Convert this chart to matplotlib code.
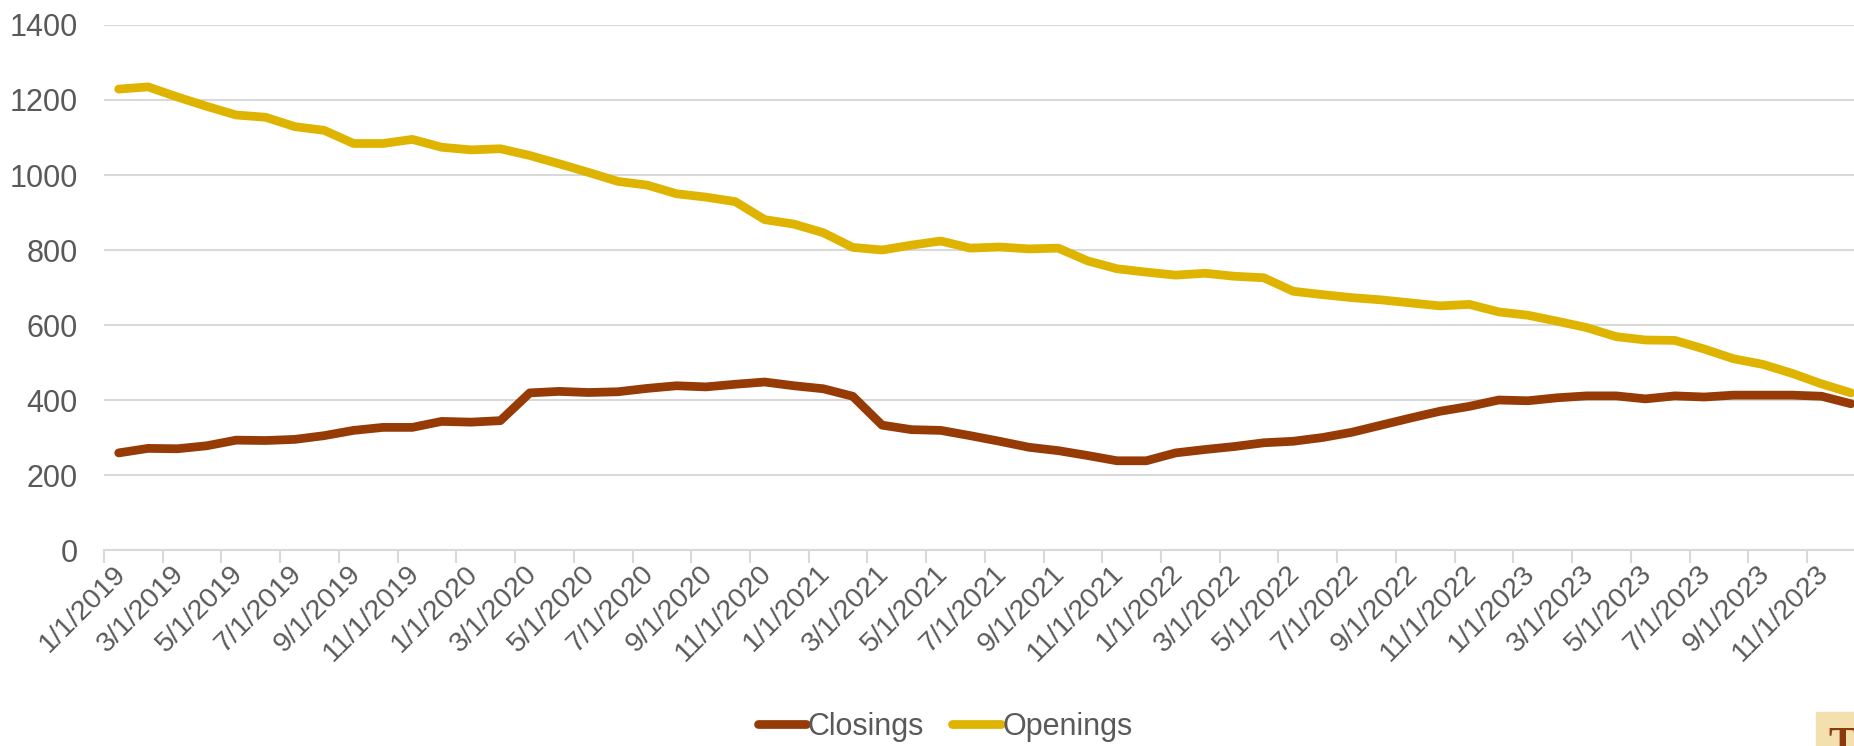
import numpy as np
import pandas as pd
import matplotlib
matplotlib.use("Agg")
import matplotlib.pyplot as plt
import matplotlib.transforms as mtransforms
from matplotlib.patches import Rectangle

plt.rcParams['font.family'] = ['Liberation Sans', 'DejaVu Sans']

# monthly, 1/1/2019 .. 12/1/2023
months = pd.date_range("2019-01-01", periods=60, freq="MS")
month_labels = [f"{d.month}/1/{d.year}" for d in months]

closings = [259, 271, 270, 278, 293, 292, 295, 305, 319, 327, 327, 343,
            341, 345, 419, 423, 420, 422, 431, 438, 435, 442, 448, 438,
            430, 410, 333, 321, 319, 305, 290, 274, 265, 252, 238, 238,
            259, 268, 276, 286, 290, 300, 314, 333, 352, 370, 383, 400,
            398, 406, 411, 411, 403, 411, 408, 413, 413, 413, 410, 390]

openings = [1229, 1235, 1208, 1183, 1160, 1154, 1129, 1119, 1084, 1084, 1095, 1074,
            1067, 1070, 1052, 1030, 1007, 983, 973, 950, 941, 929, 881, 869,
            846, 807, 800, 813, 824, 805, 808, 803, 805, 771, 750, 741,
            733, 738, 730, 726, 690, 681, 673, 667, 659, 651, 655, 635,
            626, 610, 593, 569, 560, 559, 536, 510, 495, 471, 443, 419]

c_close = "#963B06"
c_open = "#DEB400"
grid_c = "#D9D9D9"
txt_c = "#595959"

fig = plt.figure(figsize=(18.54, 7.46), dpi=100)
ax = fig.add_axes([0.0561, 0.2627, 0.9502, 0.7038])

x = np.arange(len(months))
ax.plot(x, closings, color=c_close, lw=6.3, solid_capstyle="round",
        solid_joinstyle="round", label="Closings", zorder=3)
ax.plot(x, openings, color=c_open, lw=6.3, solid_capstyle="round",
        solid_joinstyle="round", label="Openings", zorder=3)

ax.set_xlim(-0.5, len(months) - 0.5)
ax.set_ylim(0, 1400)
ax.set_yticks(np.arange(0, 1401, 200))
ax.yaxis.grid(True, color=grid_c, lw=1.5)
ax.set_axisbelow(True)
ax.tick_params(axis="y", length=0, pad=19, labelsize=22, labelcolor=txt_c)

ax.set_xticks(x[::2])
ax.set_xticklabels(month_labels[::2], rotation=45, ha="right", va="center",
                   rotation_mode="anchor")
ax.set_xticks(np.arange(-0.5, len(months), 2), minor=True)
ax.tick_params(axis="x", which="major", length=0, pad=14, labelsize=20.5,
               labelcolor=txt_c)
ax.tick_params(axis="x", which="minor", length=9, width=1.5, color=grid_c)

shift = mtransforms.ScaledTranslation(3 / 100, 0, fig.dpi_scale_trans)
for lab in ax.get_xticklabels():
    lab.set_transform(lab.get_transform() + shift)

for s in ["top", "right", "left"]:
    ax.spines[s].set_visible(False)
ax.spines["bottom"].set_color(grid_c)
ax.spines["bottom"].set_linewidth(1.5)

fig.legend(loc="center", bbox_to_anchor=(0.5097, 0.026), ncol=2, frameon=False,
           fontsize=22, labelcolor=txt_c, handlelength=1.6, handletextpad=0.05,
           columnspacing=0.9, borderpad=0)

# cropped logo in the corner
fig.patches.append(Rectangle((1816 / 1854, 0), 0.05, 34 / 746,
                             transform=fig.transFigure, color="#F3E0AE", zorder=0))
fig.text(1828 / 1854, 0.0, "T", family="Liberation Serif", fontsize=30,
         fontweight="bold", color="#8B3A0E", va="center", ha="left")

fig.savefig("out.png", dpi=100)
